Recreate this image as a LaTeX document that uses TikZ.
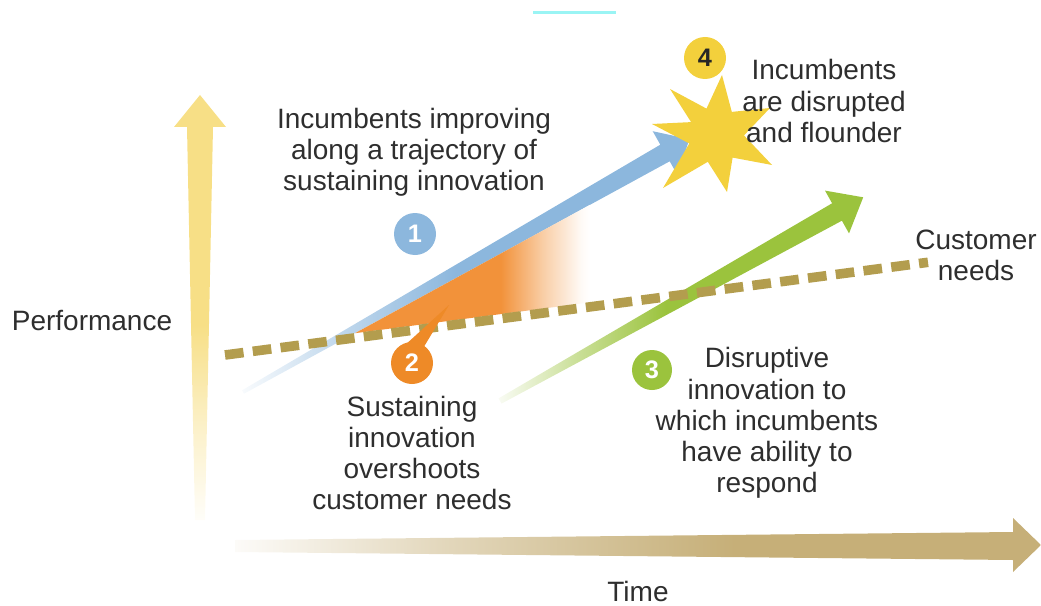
\documentclass[tikz,border=0pt]{standalone}
\usepackage{fontspec}
\setmainfont{Liberation Sans}

\definecolor{txt}{HTML}{2E2E2E}
\definecolor{blueA}{HTML}{8CB7DD}
\definecolor{orA}{HTML}{F2923A}
\definecolor{orC}{HTML}{EE8A27}
\definecolor{greenA}{HTML}{9BC33D}
\definecolor{starC}{HTML}{F3D03C}
\definecolor{yelAxis}{HTML}{F7DF86}
\definecolor{tanA}{HTML}{C6AF78}
\definecolor{dashC}{HTML}{B39D4E}
\definecolor{cyanA}{HTML}{9AF4F4}

% fades along the direction of each arrow (stops kept inside 25bp..75bp)
\pgfdeclarehorizontalshading{bluefade}{100bp}{color(0bp)=(blueA!6); color(25bp)=(blueA!6); color(36bp)=(blueA!55); color(49bp)=(blueA); color(100bp)=(blueA)}
\pgfdeclarehorizontalshading{greenfade}{100bp}{color(0bp)=(greenA!6); color(25bp)=(greenA!6); color(35bp)=(greenA!50); color(48bp)=(greenA); color(100bp)=(greenA)}
\pgfdeclarehorizontalshading{tanfade}{100bp}{color(0bp)=(tanA!5); color(25bp)=(tanA!5); color(38bp)=(tanA!50); color(56bp)=(tanA); color(100bp)=(tanA)}
\pgfdeclarehorizontalshading{orfade}{100bp}{color(0bp)=(orA); color(25bp)=(orA); color(56bp)=(orA); color(65bp)=(orA!45); color(73bp)=(orA!5); color(75bp)=(white); color(100bp)=(white)}
\pgfdeclareverticalshading{yelfade}{100bp}{color(0bp)=(yelAxis!5); color(25bp)=(yelAxis!5); color(36bp)=(yelAxis!45); color(48bp)=(yelAxis); color(100bp)=(yelAxis)}

\begin{document}
\begin{tikzpicture}[x=0.75pt,y=-0.75pt,
  lbl/.style={align=center, text=txt, inner sep=0pt,
    font=\fontsize{21}{23.4}\selectfont},
  numc/.style={circle, inner sep=0pt, minimum size=31.5pt, text=white,
    font=\fontsize{19}{19}\selectfont\bfseries},
  needline/.style={draw=dashC, line width=7.2pt, dash pattern=on 14pt off 7pt}]

\useasboundingbox (0,0) rectangle (1041,606);

% thin cyan strip at the top edge
\fill[cyanA] (533,11.5) rectangle (616,14.5);

% vertical axis: Performance
\shade[shading=yelfade]
  (195,520) -- (187,127) -- (174,127) -- (200,95) -- (226,127) -- (213,127) -- (205,520) -- cycle;

% horizontal axis: Time
\shade[shading=tanfade]
  (235,540) -- (1013,532) -- (1013,518) -- (1041,545) -- (1013,572) -- (1013,560) -- (235,552) -- cycle;

% trajectory 1: sustaining innovation
\shade[shading=bluefade]
  (242.0,390.3) -- (660.3,144.7) -- (652.7,131.2) -- (689.4,139.2)
  -- (677.3,174.8) -- (669.7,161.3) -- (244.0,393.7) -- cycle;

% overshoot wedge between trajectory 1 and customer needs
\shade[shading=orfade]
  (355,333.2) -- (590,204.8) -- (590,302.4) -- cycle;

% trajectory 3: disruptive innovation
\shade[shading=greenfade]
  (498.5,398.4) -- (832.1,203.3) -- (825.0,190.6) -- (863.2,197.3)
  -- (849.0,233.4) -- (841.9,220.7) -- (501.5,403.6) -- cycle;

% customer needs
\coordinate (needA) at (225,355);
\coordinate (needB) at (928,262.3);
\draw[needline] (needA) -- (needB);

% numbered markers
\node[numc, fill=blueA] (n1) at (415,234) {1};
\node[numc, fill=orC] (n2) at (412,363) {2};
\node[numc, fill=greenA, minimum size=30pt] (n3) at (652,370) {3};
\fill[orC] (449,305) -- (422,350) -- (404,346) -- cycle;

% disruption burst
\fill[starC] (722,75) -- (731.8,111.9) -- (770,108) -- (744,135.4) -- (772,165)
  -- (732.6,157.6) -- (727,192) -- (707.8,161.8) -- (663,188) -- (689.3,143.5)
  -- (652,124) -- (691.1,122.1) -- (670,89) -- (706.5,108.6) -- cycle;
\node[numc, fill=starC, text=black!85] (n4) at (705,58) {4};

% labels
\node[lbl] (t1) at (414,152) {Incumbents improving\\along a trajectory of\\sustaining innovation};
\node[lbl] (t4) at (824,101) {Incumbents\\are disrupted\\and flounder};
\node[lbl] (perf) at (92,321) {Performance};
\node[lbl] (cust) at (976,255) {Customer\\needs};
\node[lbl] (t2) at (412,453) {Sustaining\\innovation\\overshoots\\customer needs};
\node[lbl] (t3) at (767,423) {Disruptive\\innovation to\\which incumbents\\have ability to\\respond};
\node[lbl] (time) at (638,591) {Time};

\end{tikzpicture}
\end{document}
